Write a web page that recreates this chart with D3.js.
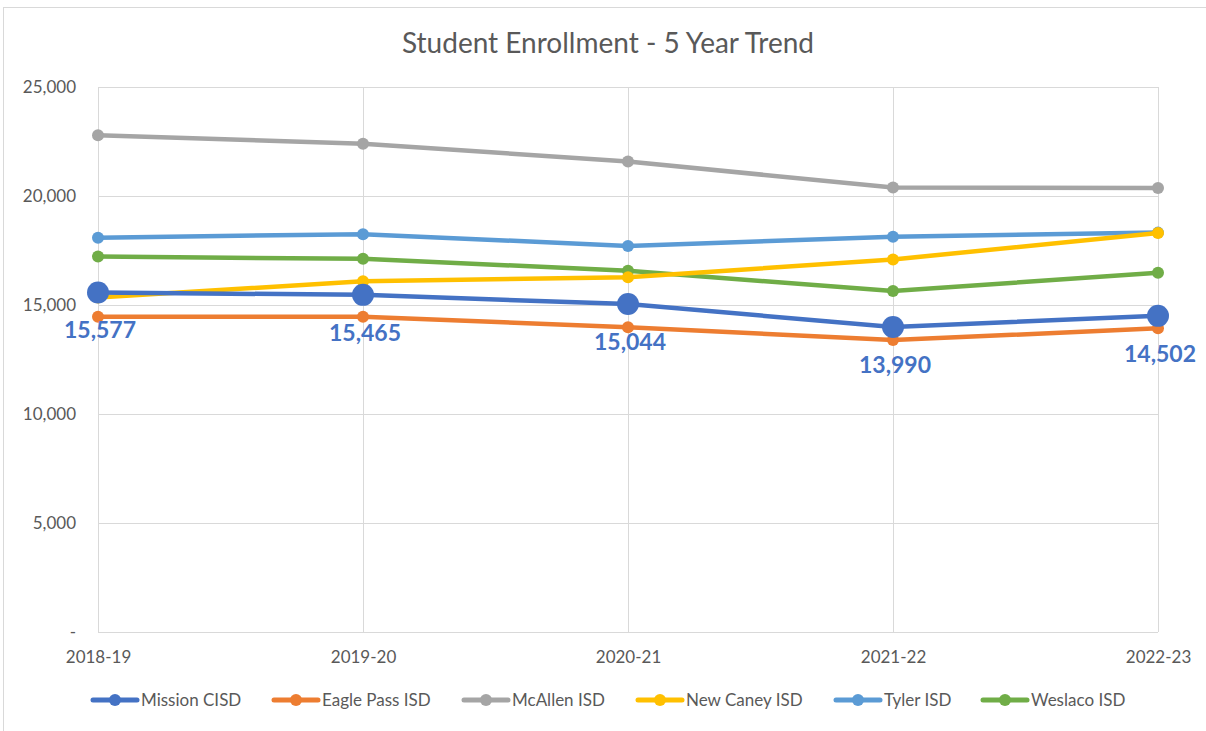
<!DOCTYPE html>
<html>
<head>
<meta charset="utf-8">
<script src="https://cdn.jsdelivr.net/npm/d3@7"></script>
<style>
  html, body { margin: 0; padding: 0; background: #fff; }
  svg { display: block; font-family: Lato, "Open Sans", sans-serif; }
</style>
</head>
<body>
<svg id="chart" width="1206" height="731"></svg>
<script>
const categories = ["2018-19", "2019-20", "2020-21", "2021-22", "2022-23"];
const seriesNames = ["Mission CISD", "Eagle Pass ISD", "McAllen ISD", "New Caney ISD", "Tyler ISD", "Weslaco ISD"];
const seriesColors = ["#4472C4", "#ED7D31", "#A5A5A5", "#FFC000", "#5B9BD5", "#70AD47"];
const missionValues  = [15577, 15465, 15044, 13990, 14502];
const eaglePassValues = [14460, 14460, 13980, 13390, 13930];
const mcallenValues  = [22790, 22400, 21580, 20390, 20370];
const newCaneyValues = [15340, 16090, 16270, 17090, 18300];
const tylerValues    = [18090, 18250, 17710, 18130, 18320];
const weslacoValues  = [17220, 17120, 16570, 15640, 16480];
const yTicks = [0, 5000, 10000, 15000, 20000, 25000];
const titleText = "Student Enrollment - 5 Year Trend";

const seriesValues = [missionValues, eaglePassValues, mcallenValues, newCaneyValues, tylerValues, weslacoValues];
const drawOrder = [2, 4, 5, 3, 1, 0];

const svg = d3.select("#chart");

svg.append("rect").attr("x", 3.5).attr("y", 7.5).attr("width", 1220).attr("height", 740)
  .attr("fill", "none").attr("stroke", "#d9d9d9").attr("stroke-width", 1);

const x = d3.scalePoint().domain(categories).range([98, 1158]);
const y = d3.scaleLinear().domain([0, 25000]).range([632, 87]);

svg.append("g").selectAll("line").data(yTicks).join("line")
  .attr("x1", 98).attr("x2", 1158)
  .attr("y1", d => Math.round(y(d)) + 0.5).attr("y2", d => Math.round(y(d)) + 0.5)
  .attr("stroke", "#d9d9d9").attr("stroke-width", 1);

svg.append("g").selectAll("line").data(categories).join("line")
  .attr("x1", d => Math.round(x(d)) + 0.5).attr("x2", d => Math.round(x(d)) + 0.5)
  .attr("y1", y(25000)).attr("y2", y(0))
  .attr("stroke", "#d9d9d9").attr("stroke-width", 1);

const yAxis = d3.axisLeft(y).tickValues(yTicks).tickSize(0).tickPadding(0)
  .tickFormat(d => d === 0 ? "-" : d3.format(",")(d));
const yG = svg.append("g").attr("transform", "translate(76,0)").call(yAxis);
yG.select(".domain").remove();
yG.selectAll("text").attr("font-size", 17).attr("fill", "#595959")
  .attr("font-family", "Lato, 'Open Sans', sans-serif").attr("dy", "0.35em");

const xAxis = d3.axisBottom(x).tickSize(0).tickPadding(0);
const xG = svg.append("g").attr("transform", "translate(0,651)").call(xAxis);
xG.select(".domain").remove();
xG.selectAll("text").attr("font-size", 17).attr("fill", "#595959")
  .attr("font-family", "Lato, 'Open Sans', sans-serif").attr("dy", "0.7em");

svg.append("text").attr("x", 608).attr("y", 53).attr("text-anchor", "middle")
  .attr("font-size", 28).attr("fill", "#595959").text(titleText);

const line = d3.line().x((d, i) => x(categories[i])).y(d => y(d));

drawOrder.forEach(si => {
  const g = svg.append("g");
  g.append("path").datum(seriesValues[si]).attr("d", line)
    .attr("fill", "none").attr("stroke", seriesColors[si])
    .attr("stroke-width", 4.5).attr("stroke-linejoin", "round").attr("stroke-linecap", "round");
  g.selectAll("circle").data(seriesValues[si]).join("circle")
    .attr("cx", (d, i) => x(categories[i])).attr("cy", d => y(d))
    .attr("r", si === 0 ? 11 : 6).attr("fill", seriesColors[si]);
});

svg.append("g").selectAll("text").data(missionValues).join("text")
  .attr("x", (d, i) => x(categories[i]) + 2).attr("y", d => y(d) + 46)
  .attr("text-anchor", "middle").attr("font-size", 23).attr("font-weight", "bold")
  .attr("fill", "#4472C4").text(d => d3.format(",")(d));

const legendX = [93, 274, 464, 638, 836, 983];
const lg = svg.append("g").selectAll("g").data(seriesNames).join("g")
  .attr("transform", (d, i) => `translate(${legendX[i]},700)`);
lg.append("line").attr("x1", 0).attr("x2", 44).attr("y1", 0).attr("y2", 0)
  .attr("stroke", (d, i) => seriesColors[i]).attr("stroke-width", 5).attr("stroke-linecap", "round");
lg.append("circle").attr("cx", 22).attr("cy", 0).attr("r", 6).attr("fill", (d, i) => seriesColors[i]);
lg.append("text").attr("x", 48).attr("y", 0).attr("dy", "0.35em")
  .attr("font-size", 17).attr("fill", "#595959").text(d => d);
</script>
</body>
</html>
